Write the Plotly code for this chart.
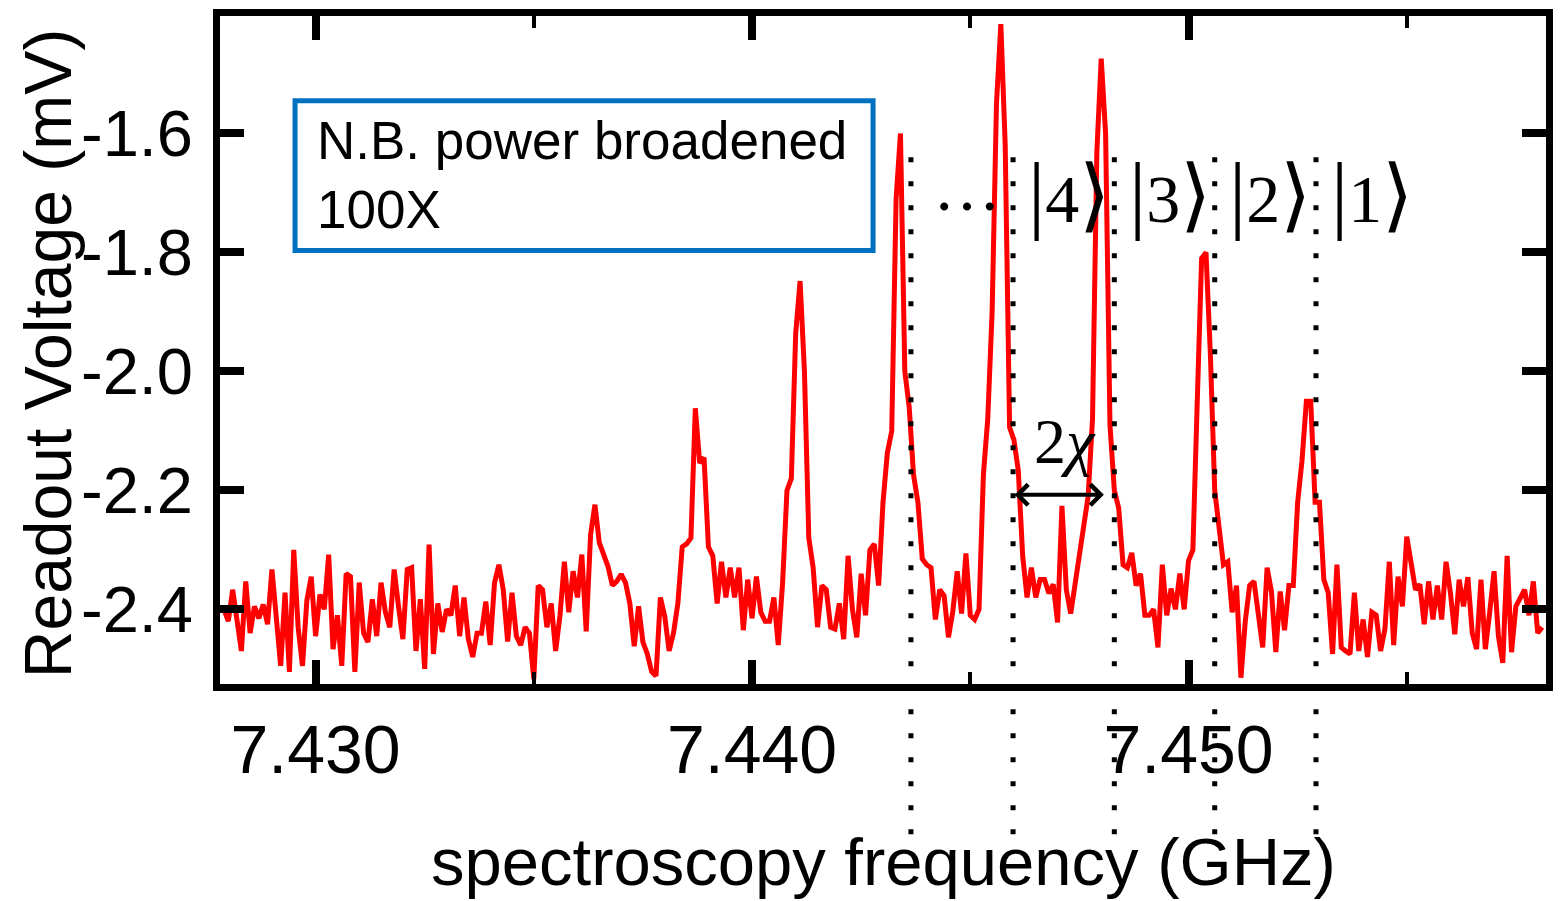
import plotly.graph_objects as go

# frequency sweep (GHz): first point and step between points
freq_start = 7.4279
freq_step = 0.0001

# readout voltage (mV), one value per sweep point
voltage = [
    -2.400, -2.420, -2.367, -2.425, -2.470, -2.353, -2.440, -2.395, -2.415, -2.392,
    -2.425, -2.333, -2.405, -2.495, -2.372, -2.505, -2.300, -2.430, -2.495, -2.385,
    -2.345, -2.445, -2.375, -2.400, -2.308, -2.467, -2.410, -2.495, -2.340, -2.345,
    -2.505, -2.355, -2.440, -2.455, -2.383, -2.445, -2.355, -2.405, -2.430, -2.333,
    -2.395, -2.450, -2.333, -2.330, -2.470, -2.383, -2.500, -2.291, -2.475, -2.390,
    -2.438, -2.400, -2.410, -2.360, -2.445, -2.380, -2.450, -2.480, -2.440, -2.440,
    -2.387, -2.460, -2.355, -2.325, -2.367, -2.454, -2.372, -2.445, -2.460, -2.430,
    -2.440, -2.517, -2.360, -2.367, -2.430, -2.390, -2.470, -2.410, -2.320, -2.405,
    -2.336, -2.380, -2.308, -2.437, -2.275, -2.224, -2.288, -2.310, -2.328, -2.360,
    -2.353, -2.341, -2.355, -2.390, -2.462, -2.395, -2.455, -2.475, -2.505, -2.512,
    -2.380, -2.412, -2.470, -2.440, -2.390, -2.295, -2.290, -2.280, -2.062, -2.154,
    -2.145, -2.295, -2.310, -2.390, -2.320, -2.380, -2.330, -2.380, -2.330, -2.435,
    -2.350, -2.415, -2.345, -2.405, -2.420, -2.420, -2.380, -2.460, -2.355, -2.200,
    -2.180, -1.936, -1.848, -2.000, -2.280, -2.330, -2.430, -2.360, -2.367, -2.430,
    -2.433, -2.390, -2.450, -2.310, -2.400, -2.447, -2.340, -2.410, -2.300, -2.290,
    -2.360, -2.220, -2.137, -2.100, -1.710, -1.600, -2.000, -2.060, -2.174, -2.220,
    -2.315, -2.325, -2.330, -2.417, -2.367, -2.377, -2.447, -2.403, -2.336, -2.407,
    -2.306, -2.410, -2.417, -2.400, -2.174, -2.080, -1.900, -1.550, -1.416, -1.620,
    -2.094, -2.115, -2.167, -2.310, -2.380, -2.330, -2.380, -2.350, -2.350, -2.373,
    -2.358, -2.422, -2.226, -2.367, -2.407, -2.358, -2.306, -2.260, -2.210, -2.080,
    -1.630, -1.474, -1.600, -2.090, -2.200, -2.230, -2.325, -2.330, -2.305, -2.360,
    -2.340, -2.410, -2.410, -2.400, -2.464, -2.325, -2.410, -2.365, -2.400, -2.340,
    -2.400, -2.318, -2.300, -2.050, -1.810, -1.800, -1.970, -2.200, -2.265, -2.325,
    -2.320, -2.405, -2.360, -2.515, -2.420, -2.360, -2.353, -2.410, -2.464, -2.330,
    -2.370, -2.472, -2.370, -2.435, -2.360, -2.360, -2.220, -2.150, -2.050, -2.050,
    -2.220, -2.220, -2.350, -2.372, -2.475, -2.325, -2.464, -2.470, -2.475, -2.372,
    -2.470, -2.417, -2.480, -2.405, -2.410, -2.470, -2.433, -2.320, -2.460, -2.345,
    -2.395, -2.278, -2.328, -2.367, -2.358, -2.425, -2.353, -2.417, -2.360, -2.417,
    -2.320, -2.372, -2.442, -2.350, -2.395, -2.346, -2.440, -2.467, -2.350, -2.467,
    -2.405, -2.336, -2.445, -2.490, -2.310, -2.472, -2.395, -2.380, -2.367, -2.410,
    -2.353, -2.440, -2.430,
]

# dotted guide lines between the number-state peaks (GHz)
state_lines = [7.44364, 7.44598, 7.44830, 7.45060, 7.45292]
state_labels = ["…", "|4⟩", "|3⟩", "|2⟩", "|1⟩"]

# 2chi arrow: right end frequency and voltage level
chi_right = 7.44806
chi_level = -2.2075
chi_label_x = 7.44718
chi_label_y = -2.118

x_range = [7.42781, 7.45819]
y_range = [-2.5255, -1.4025]
x_ticks = [7.430, 7.440, 7.450]
y_ticks = [-2.4, -2.2, -2.0, -1.8, -1.6]

sans = "Liberation Sans, Arial, sans-serif"
serif = "Liberation Serif, DejaVu Serif, Times New Roman, serif"

fig = go.Figure()
fig.add_trace(go.Scatter(
    y=voltage, x0=freq_start, dx=freq_step,
    mode="lines", line=dict(color="#ff0000", width=5),
    showlegend=False,
))


def to_paper(f):
    return (f - x_range[0]) / (x_range[1] - x_range[0])


# dotted vertical lines, running below the axis
for f in state_lines:
    fig.add_shape(type="line", xref="paper", yref="paper",
                  x0=to_paper(f), x1=to_paper(f), y0=-0.225, y1=0.803,
                  line=dict(color="black", width=5, dash="5px,19px"))

# state labels centred between the lines; bar and bracket drawn taller and thin
bar = "<span style='font-size:86px'>|</span>"
bra = "<span style='font-size:80px;font-family:Noto Sans CJK JP'>⟩</span>"
spacing = state_lines[-1] - state_lines[-2]
mids = [(state_lines[i] + state_lines[i + 1]) / 2 for i in range(len(state_lines) - 1)]
mids.append(state_lines[-1] + spacing / 2)
for xm, lab in zip(mids, state_labels):
    txt = lab.replace("|", bar).replace("⟩", bra)
    fig.add_annotation(x=xm, y=0.744, xref="x", yref="paper", text=txt,
                       xanchor="center", yanchor="middle",
                       showarrow=False, xshift=5,
                       font=dict(family=serif, size=68, color="black"))

# 2chi arrow
fig.add_annotation(x=chi_right, y=chi_level, ax=state_lines[1], ay=chi_level,
                   xref="x", yref="y", axref="x", ayref="y", text="",
                   showarrow=True, arrowhead=4, startarrowhead=4,
                   arrowside="end+start", arrowwidth=4, arrowsize=1,
                   startarrowsize=1, arrowcolor="black",
                   standoff=0, startstandoff=0)
fig.add_annotation(x=chi_label_x, y=chi_label_y, xref="x", yref="y",
                   xanchor="center", yanchor="middle",
                   text="2<i>χ</i>", showarrow=False,
                   font=dict(family=serif, size=64, color="black"))

# note box
fig.add_shape(type="rect", xref="paper", yref="paper",
              x0=0.0566, x1=0.4925, y0=0.6490, y1=0.8730,
              line=dict(color="#0070c0", width=5), fillcolor="white")
fig.add_annotation(x=0.0720, y=0.7615, xref="paper", yref="paper",
                   xanchor="left", yanchor="middle", align="left",
                   text="N.B. power broadened<br>100X", showarrow=False,
                   font=dict(family=sans, size=53, color="black"))

# axis titles
fig.add_annotation(x=-0.1298, y=0.495, xref="paper", yref="paper",
                   xanchor="center", yanchor="middle",
                   text="Readout Voltage (mV)", textangle=-90, showarrow=False,
                   font=dict(family=sans, size=66, color="black"))
fig.add_annotation(x=0.5, y=-0.2653, xref="paper", yref="paper",
                   xanchor="center", yanchor="middle",
                   text="spectroscopy frequency (GHz)", showarrow=False,
                   font=dict(family=sans, size=67, color="black"))

axis_style = dict(showline=True, linewidth=7, linecolor="black", mirror="ticks",
                  ticks="inside", ticklen=24, tickwidth=8, tickcolor="black",
                  showgrid=False, zeroline=False)

fig.update_xaxes(range=x_range, tickvals=x_ticks,
                 ticktext=[f"{v:.3f}" for v in x_ticks],
                 minor=dict(tick0=7.43, dtick=0.005, ticks="inside", ticklen=12,
                            tickwidth=4, tickcolor="black"),
                 tickfont=dict(family=sans, size=68, color="black"),
                 ticklabelstandoff=0, **axis_style)
fig.update_yaxes(range=y_range, tickvals=y_ticks,
                 ticktext=[f"{v:.1f}" for v in y_ticks],
                 tickfont=dict(family=sans, size=65, color="black"),
                 ticklabelstandoff=7, **axis_style)

fig.update_layout(width=1562, height=901,
                  margin=dict(l=220, r=9, t=13, b=217),
                  paper_bgcolor="white", plot_bgcolor="white")

# the page body has a default margin; drop it so the figure sits at the corner
fig.write_html("out.html", config={"displayModeBar": False},
               post_script="document.body.style.margin = '0';")
